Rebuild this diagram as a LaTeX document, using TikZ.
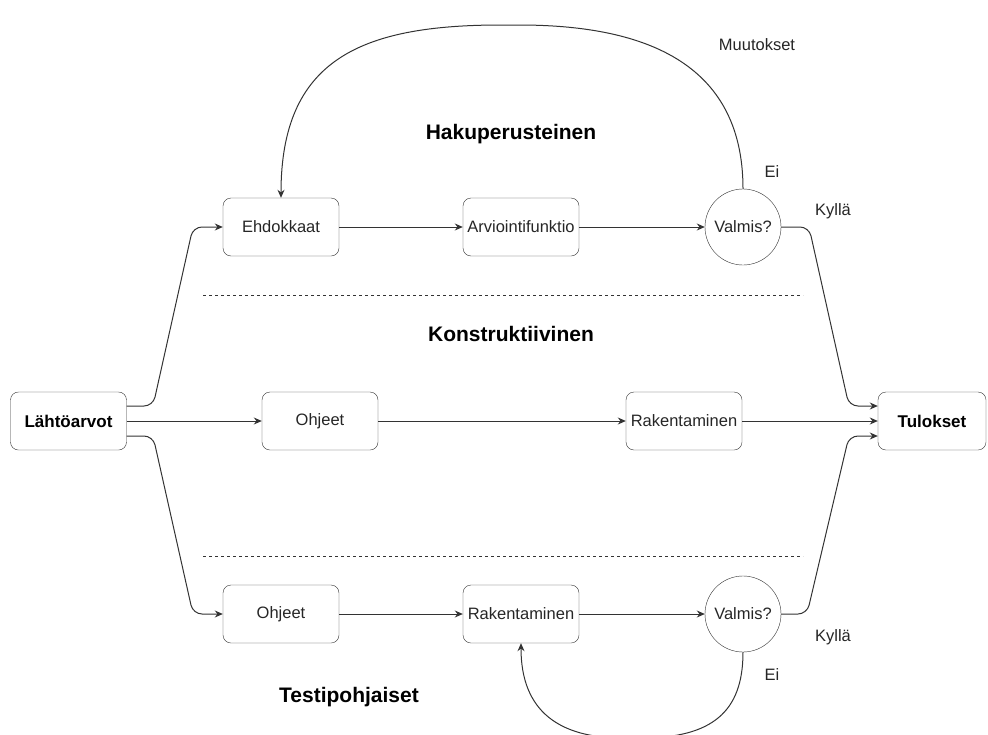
\documentclass[tikz,border=0pt]{standalone}
\usepackage{fontspec}
\setmainfont{Liberation Sans}
\usepackage{tikz}
\usetikzlibrary{arrows.meta, positioning, calc}

\begin{document}
\begin{tikzpicture}[
    x=1pt, y=-1pt,
    box/.style     = {draw=black!80, rounded corners=8pt, minimum width=116pt,
                      minimum height=58pt, inner sep=0pt, align=center,
                      font=\fontsize{16.5}{20}\selectfont, text=black!85},
    endbox/.style  = {box, font=\fontsize{17}{20}\selectfont\bfseries, text=black},
    decision/.style= {draw=black!80, circle, minimum size=76pt, inner sep=0pt,
                      font=\fontsize{16.5}{20}\selectfont, text=black!85},
    heading/.style = {font=\fontsize{21}{24}\selectfont\bfseries, text=black},
    lbl/.style     = {font=\fontsize{16.5}{20}\selectfont, text=black!85},
    arr/.style     = {-{Stealth[length=8pt, width=7pt]}, black!80, line width=1pt,
                      rounded corners=9pt},
    sep/.style     = {dashed, black!80, line width=0.8pt},
]
\useasboundingbox (0,0) rectangle (988,734);

%% ── Start and end ──────────────────────────────────────────────────────────
\node[endbox] (start)   at (68.5,421)  {Lähtöarvot};
\node[endbox, minimum width=108pt] (results) at (932,421) {Tulokset};

%% ── Search based row (top) ─────────────────────────────────────────────────
\node[heading]  (hsearch) at (511,134) {Hakuperusteinen};
\node[box]      (cand)    at (281,227) {Ehdokkaat};
\node[box]      (evalfn)  at (521,227) {Arviointifunktio};
\node[decision] (done1)   at (743,227) {Valmis?};

%% ── Constructive row (middle) ──────────────────────────────────────────────
\node[heading]  (hconstr) at (511,334) {Konstruktiivinen};
\node[box]      (instr1)  at (320,421) {Ohjeet};
\node[box]      (build1)  at (684,421) {Rakentaminen};

%% ── Test based row (bottom) ────────────────────────────────────────────────
\node[heading]  (htest)   at (349,697) {Testipohjaiset};
\node[box]      (instr2)  at (281,614) {Ohjeet};
\node[box]      (build2)  at (521,614) {Rakentaminen};
\node[decision] (done2)   at (743,614) {Valmis?};

%% ── Separators ─────────────────────────────────────────────────────────────
\coordinate (sepA1) at (203,295);
\coordinate (sepA2) at (803,295);
\coordinate (sepB1) at (203,556);
\coordinate (sepB2) at (803,556);
\draw[sep] (sepA1) -- (sepA2);
\draw[sep] (sepB1) -- (sepB2);

%% ── Edge labels ────────────────────────────────────────────────────────────
\node[lbl] (changes) at (757,45)  {Muutokset};
\node[lbl] (no1)     at (772,172) {Ei};
\node[lbl] (yes1)    at (833,211) {Kyllä};
\node[lbl] (yes2)    at (833,637) {Kyllä};
\node[lbl] (no2)     at (772,675) {Ei};

%% ── Arrows out of start ────────────────────────────────────────────────────
\draw[arr] ([yshift=15pt]start.east) -- (153,406) -- (193,227) -- (cand.west);
\draw[arr] (start.east) -- (instr1.west);
\draw[arr] ([yshift=-15pt]start.east) -- (153,436) -- (193,614) -- (instr2.west);

%% ── Row arrows ─────────────────────────────────────────────────────────────
\draw[arr] (cand)   -- (evalfn);
\draw[arr] (evalfn) -- (done1);
\draw[arr] (instr1) -- (build1);
\draw[arr] (instr2) -- (build2);
\draw[arr] (build2) -- (done2);

%% ── Arrows into results ────────────────────────────────────────────────────
\draw[arr] (done1.east) -- (809,227) -- (849,406) -- ([yshift=15pt]results.west);
\draw[arr] (build1) -- (results);
\draw[arr] (done2.east) -- (807,614) -- (849,436) -- ([yshift=-15pt]results.west);

%% ── Feedback loops ─────────────────────────────────────────────────────────
\draw[arr] (done1.north) .. controls (743,60) and (640,25) .. (510,25)
                         .. controls (360,25) and (281,60) .. (cand.north);
\draw[arr] (done2.south) .. controls (743,712) and (712,738) .. (632,738)
                         .. controls (560,738) and (521,712) .. (build2.south);

\end{tikzpicture}
\end{document}
